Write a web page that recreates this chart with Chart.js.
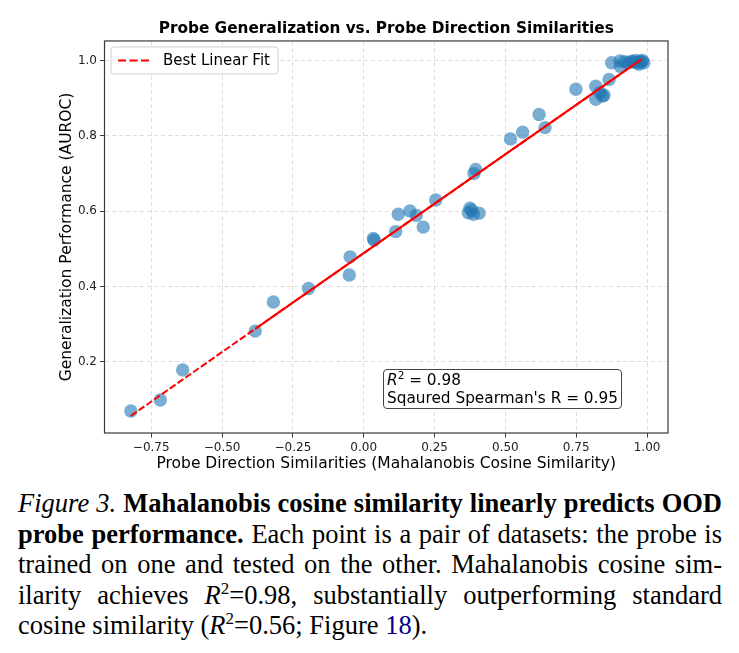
<!DOCTYPE html>
<html><head><meta charset="utf-8">
<script src="https://cdn.jsdelivr.net/npm/chart.js@4.4.1/dist/chart.umd.min.js"></script>
<style>
html,body{margin:0;padding:0;background:#fff;}
#wrap{position:relative;width:739px;height:653px;overflow:hidden;background:#fff;}
#c{position:absolute;left:0;top:0;}
#ann{position:absolute;left:383px;top:369px;width:231px;height:36px;border:1px solid #444;border-radius:4px;background:#fff;font-family:"DejaVu Sans";font-size:15.3px;line-height:18px;padding:1px 3px;color:#000;white-space:nowrap;}
#ann sup{font-size:10.5px;line-height:0;vertical-align:6px;}
#cap{position:absolute;left:18px;top:488px;width:704px;font-family:"Liberation Serif";font-size:26.5px;line-height:30.5px;color:#000;}
.ln{text-align:justify;text-align-last:justify;white-space:nowrap;}
.last{text-align:left;text-align-last:left;white-space:nowrap;}
#cap sup{font-size:17px;line-height:0;vertical-align:10px;}
.ref{color:#00008b;}
</style>
</head><body>
<div id="wrap">
<canvas id="c" width="739" height="475"></canvas>
<div id="ann"><i>R</i><sup>2</sup> = 0.98<br>Sqaured Spearman's R = 0.95</div>
<div id="cap">
<div class="ln"><i>Figure 3.</i> <b>Mahalanobis cosine similarity linearly predicts OOD</b></div>
<div class="ln"><b>probe performance.</b> Each point is a pair of datasets: the probe is</div>
<div class="ln">trained on one and tested on the other. Mahalanobis cosine sim-</div>
<div class="ln">ilarity achieves <i>R</i><sup>2</sup>=0.98, substantially outperforming standard</div>
<div class="last">cosine similarity (<i>R</i><sup>2</sup>=0.56; Figure <span class="ref">18</span>).</div>
</div>
</div>
<script>
// ---- data ----
const simX = [-0.822,-0.718,-0.639,-0.383,-0.319,-0.195,-0.051,-0.048,0.034,0.037,0.113,0.122,0.163,0.185,0.210,0.254,0.389,0.395,0.375,0.369,0.387,0.407,0.381,0.518,0.561,0.619,0.640,0.749,0.819,0.819,0.843,0.834,0.848,0.866,0.875,0.904,0.906,0.920,0.933,0.945,0.951,0.960,0.965,0.972,0.975,0.978,0.984,0.989];
const aurocY = [0.070,0.099,0.179,0.282,0.359,0.395,0.431,0.479,0.528,0.523,0.546,0.592,0.601,0.589,0.558,0.630,0.700,0.711,0.608,0.596,0.592,0.595,0.603,0.792,0.810,0.857,0.822,0.924,0.932,0.897,0.906,0.915,0.908,0.950,0.994,0.999,0.984,0.997,0.994,0.998,0.996,1.000,0.994,0.990,0.998,0.996,1.000,0.994];
const fitX = [-0.822,-0.383,0.980];
const fitY = [0.057,0.288,1.003];
const xTickVals = [-0.75,-0.5,-0.25,0,0.25,0.5,0.75,1.0];
const xTickLabels = ['\u22120.75','\u22120.50','\u22120.25','0.00','0.25','0.50','0.75','1.00'];
const yTickVals = [0.2,0.4,0.6,0.8,1.0];
const yTickLabels = ['0.2','0.4','0.6','0.8','1.0'];
const xRange = [-0.915,1.074];
const yRange = [0.0115,1.052];
const titleText = 'Probe Generalization vs. Probe Direction Similarities';
const xTitle = 'Probe Direction Similarities (Mahalanobis Cosine Similarity)';
const yTitle = 'Generalization Performance (AUROC)';
const legendLabel = 'Best Linear Fit';

Chart.defaults.font.family = 'DejaVu Sans';

const points = simX.map((x,i)=>({x:x,y:aurocY[i]}));
const fitAll = fitX.map((x,i)=>({x:x,y:fitY[i]}));
const fitSolid = fitAll.slice(1);

function labelFor(vals, labels, v){
  const i = vals.findIndex(t=>Math.abs(t-v)<1e-9);
  return i>=0 ? labels[i] : '';
}

const framePlugin = {
  id:'frame',
  afterDraw(chart){
    const a = chart.chartArea, ctx = chart.ctx;
    ctx.save();
    ctx.strokeStyle = '#3a3a3a';
    ctx.lineWidth = 1.2;
    ctx.strokeRect(a.left, a.top, a.right-a.left, a.bottom-a.top);
    // legend
    const lx = a.left+6.5, ly = a.top+6, lw = 167, lh = 27;
    ctx.beginPath();
    ctx.roundRect(lx, ly, lw, lh, 3);
    ctx.fillStyle = 'rgba(255,255,255,0.85)';
    ctx.fill();
    ctx.strokeStyle = '#d0d0d0';
    ctx.lineWidth = 1;
    ctx.stroke();
    ctx.beginPath();
    ctx.setLineDash([8,3.5]);
    ctx.strokeStyle = 'red';
    ctx.lineWidth = 2;
    ctx.moveTo(lx+7, ly+lh/2);
    ctx.lineTo(lx+41, ly+lh/2);
    ctx.stroke();
    ctx.setLineDash([]);
    ctx.fillStyle = '#000';
    ctx.font = '15px "DejaVu Sans"';
    ctx.textBaseline = 'middle';
    ctx.textAlign = 'left';
    ctx.fillText(legendLabel, lx+52, ly+lh/2+0.5);
    ctx.restore();
  }
};

new Chart(document.getElementById('c'), {
  type:'scatter',
  data:{datasets:[
    {type:'line', label:legendLabel, data:fitAll, borderColor:'red', borderWidth:2, borderDash:[7,2.5], pointRadius:0, fill:false, order:0},
    {type:'line', label:'fit-solid', data:fitSolid, borderColor:'red', borderWidth:2, pointRadius:0, fill:false, order:0},
    {label:'pairs', data:points, backgroundColor:'rgba(31,119,180,0.6)', borderWidth:0, pointRadius:6.7, pointHoverRadius:6.7, order:1}
  ]},
  options:{
    responsive:false, animation:false, devicePixelRatio:1,
    layout:{padding:{left:0,right:71,top:0,bottom:1.7}},
    plugins:{
      legend:{display:false}, tooltip:{enabled:false},
      title:{display:true, text:titleText, color:'#000', fullSize:false,
        font:{family:'DejaVu Sans', size:15.3, weight:'bold'}, padding:{top:20,bottom:2.6}}
    },
    scales:{
      x:{type:'linear', min:xRange[0], max:xRange[1],
        afterBuildTicks(s){ s.ticks = xTickVals.map(v=>({value:v})); },
        afterFit(s){ s.height = 40.3; },
        ticks:{color:'#222', font:{size:12}, padding:3, maxRotation:0, autoSkip:false,
          callback:(v)=>labelFor(xTickVals,xTickLabels,v)},
        grid:{color:'rgba(180,180,180,0.55)', lineWidth:0.8, tickLength:4.5, tickColor:'#3a3a3a', tickWidth:1, tickBorderDash:[]},
        border:{display:false, dash:[4,3]},
        title:{display:true, text:xTitle, color:'#000', font:{size:15.5}, padding:{top:0,bottom:0}}
      },
      y:{type:'linear', min:yRange[0], max:yRange[1],
        afterBuildTicks(s){ s.ticks = yTickVals.map(v=>({value:v})); },
        afterFit(s){ s.width = 104.5; },
        ticks:{color:'#222', font:{size:12}, padding:3, autoSkip:false,
          callback:(v)=>labelFor(yTickVals,yTickLabels,v)},
        grid:{color:'rgba(180,180,180,0.55)', lineWidth:0.8, tickLength:4.5, tickColor:'#3a3a3a', tickWidth:1, tickBorderDash:[]},
        border:{display:false, dash:[4,3]},
        title:{display:true, text:yTitle, color:'#000', font:{size:15.5}, padding:{top:57.7,bottom:0}}
      }
    }
  },
  plugins:[framePlugin]
});
</script>
</body></html>
